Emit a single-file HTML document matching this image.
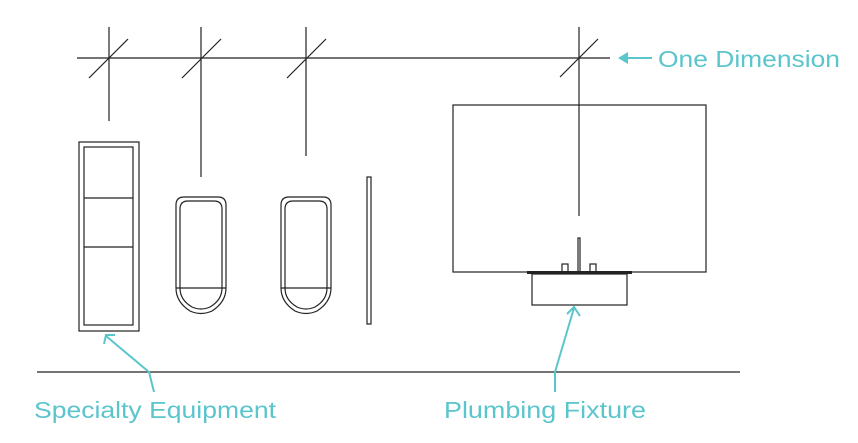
<!DOCTYPE html>
<html><head><meta charset="utf-8"><style>body{margin:0;background:#fff}svg{display:block}</style></head>
<body>
<svg width="858" height="443" viewBox="0 0 858 443" xmlns="http://www.w3.org/2000/svg">
<g stroke="#222" stroke-width="1.2" fill="none">
<line x1="77" y1="58" x2="610" y2="58"/>
<line x1="109" y1="27" x2="109" y2="121"/>
<line x1="89" y1="78" x2="128" y2="39"/>
<line x1="201" y1="27" x2="201" y2="177"/>
<line x1="182" y1="78" x2="221" y2="39"/>
<line x1="306" y1="27" x2="306" y2="156"/>
<line x1="287" y1="78" x2="326" y2="39"/>
<line x1="579" y1="27" x2="579" y2="216"/>
<line x1="560" y1="77" x2="598" y2="39"/>
<rect x="79" y="142" width="60" height="189"/>
<rect x="84" y="147" width="49" height="178"/>
<line x1="84" y1="198" x2="133" y2="198"/>
<line x1="84" y1="247" x2="133" y2="247"/>
<path d="M176,288 V205 Q176,197 184,197 H218 Q226,197 226,205 V288 Q226,302 212,311 Q201,316 190,311 Q176,302 176,288 Z"/>
<path d="M180,288 V209 Q180,201 188,201 H214 Q222,201 222,209 V288 Q222,300 210,307 Q201,311 192,307 Q180,300 180,288 Z"/>
<line x1="176" y1="288" x2="226" y2="288"/>
<path d="M281,288 V205 Q281,197 289,197 H323 Q331,197 331,205 V288 Q331,302 317,311 Q306,316 295,311 Q281,302 281,288 Z"/>
<path d="M285,288 V209 Q285,201 293,201 H319 Q327,201 327,209 V288 Q327,300 315,307 Q306,311 297,307 Q285,300 285,288 Z"/>
<line x1="281" y1="288" x2="331" y2="288"/>
<rect x="367" y="177" width="4" height="147"/>
<rect x="453" y="105" width="253" height="167"/>
<rect x="532" y="274" width="95" height="31"/>
<rect x="562" y="264" width="6" height="8"/>
<rect x="590" y="264" width="6" height="8"/>
<rect x="578" y="238" width="2" height="34"/>
<line x1="37" y1="372" x2="740" y2="372"/>
</g>
<rect x="527" y="271" width="105" height="3" fill="#222"/>
<g stroke="#5bc5cc" stroke-width="2" fill="none">
<polyline points="154,392 149,372 106,336"/>
<polyline points="104,344 106,335 115,335"/>
<polyline points="555,392 555,372 574,308"/>
<polyline points="567,314 574,307 580,316"/>
<line x1="625" y1="58" x2="652" y2="58"/>
</g>
<polygon points="618,58 628,52 628,64" fill="#5bc5cc"/>
<g fill="#5bc5cc" font-family="Liberation Sans, sans-serif" font-size="23">
<text x="658" y="67" textLength="182" lengthAdjust="spacingAndGlyphs">One Dimension</text>
<text x="34" y="418" textLength="242" lengthAdjust="spacingAndGlyphs">Specialty Equipment</text>
<text x="444" y="418" textLength="202" lengthAdjust="spacingAndGlyphs">Plumbing Fixture</text>
</g>
</svg>
</body></html>
